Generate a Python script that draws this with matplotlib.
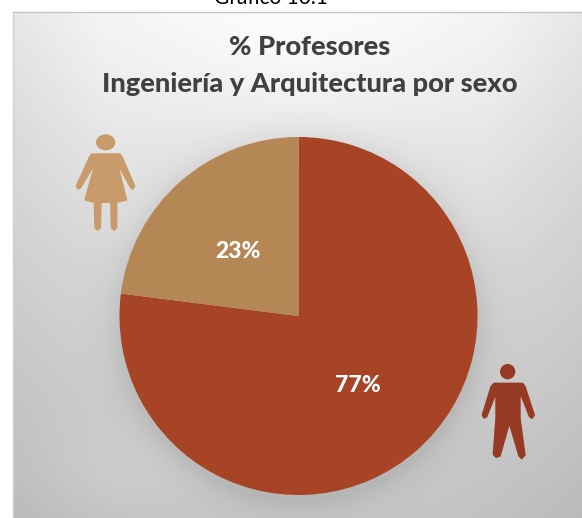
# pie chart: share of professors by sex

import numpy as np
import matplotlib
matplotlib.use("Agg")
import matplotlib.pyplot as plt
from matplotlib.patches import Polygon, Ellipse

W, H = 582, 518

# data
categories = ["Hombres", "Mujeres"]
shares = [77, 23]
share_labels = ["77%", "23%"]
pie_colors = ["#A84426", "#B58755"]

title_top = "% Profesores"
title_bottom = "Ingeniería y Arquitectura por sexo"
caption = "Gráfico 10.1"

plt.rcParams["font.family"] = ["Lato", "DejaVu Sans"]

fig = plt.figure(figsize=(W / 100, H / 100), dpi=100, facecolor="white")
ax = fig.add_axes([0, 0, 1, 1])

# panel background: light at the top centre, grey at the bottom, soft pie shadow
px, py = np.meshgrid(np.arange(13, W), np.arange(12, H))
level = 238 - 34 * ((py - 12) / 506.0) ** 0.8
level += 14 * np.exp(-((px - 298) / 210.0) ** 2 - ((py - 40) / 110.0) ** 2)
level -= 35 * np.clip(np.hypot((px - 298) / 330.0, (py - 12) / 700.0) - 0.6, 0, 1)
level += 6 * np.exp(-((px - 120) / 90.0) ** 2 - ((py - 470) / 50.0) ** 2)
dist = np.hypot(px - 298.5, py - 322)
level -= 20 * np.exp(-np.clip(dist - 179, 0, None) / 16.0)
level = np.clip(level, 0, 255) / 255.0
ax.imshow(level, cmap="gray", vmin=0, vmax=1, extent=(13, W, 0, H - 12),
          origin="upper", aspect="auto", interpolation="bilinear", zorder=0)
ax.plot([13, 13], [0, H - 12], color="#D0D0D0", lw=1, zorder=1)
ax.plot([13, W], [H - 12, H - 12], color="#C4C4C4", lw=1, zorder=1)

# pie
wedges, _ = ax.pie(shares, colors=pie_colors, startangle=90, counterclock=False,
                   center=(298.5, H - 316), radius=179, frame=True,
                   wedgeprops=dict(linewidth=0))
for w in wedges:
    w.set_zorder(2)

ax.text(358, H - 385, share_labels[0], color="white", fontsize=16.5, fontweight=900,
        ha="center", va="center", zorder=3)
ax.text(238.5, H - 252, share_labels[1], color="white", fontsize=16.5, fontweight=900,
        ha="center", va="center", zorder=3)

# titles
ax.text(310, H - 47, title_top, color="#404040", fontsize=19.6, fontweight=900,
        ha="center", va="center", zorder=3)
ax.text(310, H - 84, title_bottom, color="#404040", fontsize=19.6,
        fontweight=900, ha="center", va="center", zorder=3)
ax.text(271, H - 4, caption, color="black", fontsize=15, ha="center", va="baseline", zorder=3)


def draw_icon(x0, y0, outline, head, color):
    pts = [(x0 + x / 3.0, H - (y0 + y / 3.0)) for x, y in outline]
    ax.add_patch(Polygon(pts, closed=True, facecolor=color, edgecolor=color, lw=1,
                         joinstyle="round", zorder=3))
    hx, hy, rx, ry = head
    ax.add_patch(Ellipse((x0 + hx / 3.0, H - (y0 + hy / 3.0)), 2 * rx / 3.0, 2 * ry / 3.0,
                         facecolor=color, edgecolor="none", zorder=3))


woman = [(95, 87), (180, 87), (187, 97), (224, 183), (219, 192), (212, 188), (172, 115),
         (200, 225), (170, 232), (170, 308), (162, 316), (154, 308), (152, 232), (123, 232),
         (121, 308), (113, 316), (105, 308), (103, 232), (75, 225), (105, 115), (62, 188),
         (54, 192), (49, 183), (88, 97)]
man = [(72, 85), (158, 85), (165, 95), (193, 180), (186, 190), (178, 184), (150, 112),
       (150, 190), (165, 300), (155, 311), (147, 303), (118, 205), (90, 303), (78, 307),
       (70, 298), (78, 190), (78, 115), (50, 185), (42, 189), (37, 180), (63, 95)]

draw_icon(60, 125, woman, (137, 52, 29, 24), "#C99B6B")
draw_icon(470, 355, man, (113, 50, 23, 23), "#963A24")

ax.set_xlim(0, W)
ax.set_ylim(0, H)
ax.set_aspect("auto")
ax.axis("off")

fig.savefig("out.png", dpi=100)
